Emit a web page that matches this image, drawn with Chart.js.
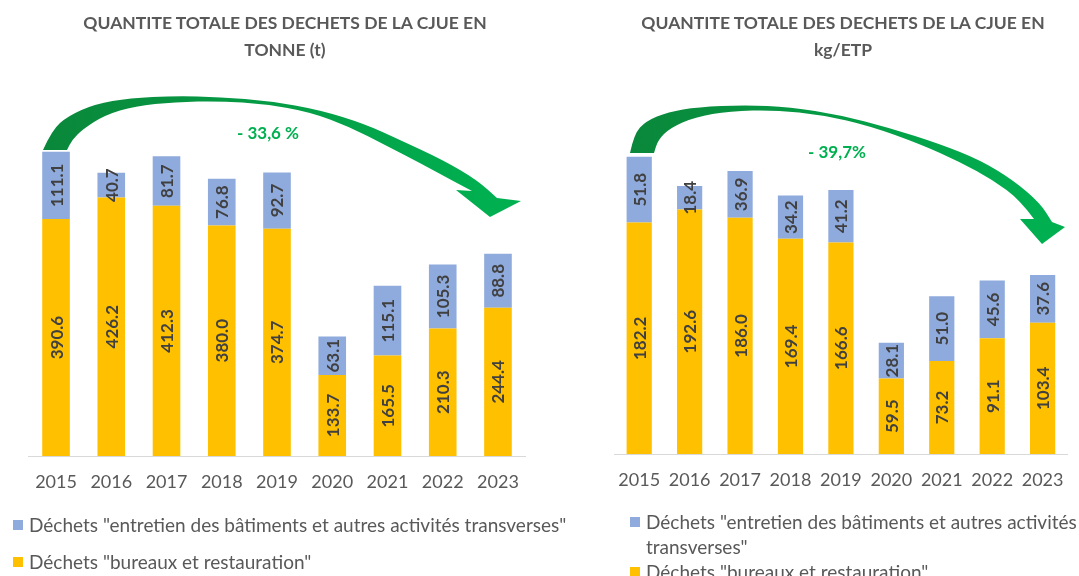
<!DOCTYPE html>
<html>
<head>
<meta charset="utf-8">
<script src="https://cdn.jsdelivr.net/npm/chart.js@4"></script>
<style>
  body { margin: 0; background: #fff; font-family: Lato, sans-serif; color: #595959; }
  #page { position: relative; width: 1079px; height: 576px; overflow: hidden; }
  canvas { position: absolute; top: 0; }
  .title { position: absolute; text-align: center; font-weight: bold; font-size: 17.5px; line-height: 27px; color: #595959; }
  .pct { position: absolute; font-weight: bold; font-size: 17px; color: #00b050; transform: translate(-50%, -50%); white-space: nowrap; }
  .leg { position: absolute; font-size: 19px; color: #595959; }
  .leg .item { position: relative; padding-left: 16px; }
  .leg .sq { position: absolute; left: 0; width: 10px; height: 10px; }
</style>
</head>
<body>
<div id="page">
  <canvas id="chartT" width="540" height="576" style="left:0;width:540px;height:576px"></canvas>
  <canvas id="chartK" width="539" height="576" style="left:540px;width:539px;height:576px"></canvas>

  <div class="title" style="left:70px;width:430px;top:9px">QUANTITE TOTALE DES DECHETS DE LA CJUE EN<br>TONNE (t)</div>
  <div class="title" style="left:633px;width:420px;top:9px">QUANTITE TOTALE DES DECHETS DE LA CJUE EN<br>kg/ETP</div>

  <div class="pct" style="left:268px;top:132px">- 33,6 %</div>
  <div class="pct" style="left:837px;top:151px">- 39,7%</div>

  <div class="leg" style="left:13px;top:512px;width:620px">
    <div class="item" style="line-height:26px"><span class="sq" style="background:#8faadc;top:8px"></span>Déchets "entretien des bâtiments et autres activités transverses"</div>
    <div class="item" style="line-height:26px;margin-top:11px"><span class="sq" style="background:#ffc000;top:8px"></span>Déchets "bureaux et restauration"</div>
  </div>
  <div class="leg" style="left:630px;top:509px;width:449px">
    <div class="item" style="line-height:25px"><span class="sq" style="background:#8faadc;top:8px"></span>Déchets "entretien des bâtiments et autres activités transverses"</div>
    <div class="item" style="line-height:25px"><span class="sq" style="background:#ffc000;top:8px"></span>Déchets "bureaux et restauration"</div>
  </div>
</div>

<script>
var years = ['2015', '2016', '2017', '2018', '2019', '2020', '2021', '2022', '2023'];

// tonnes
var bureauxTonnes = [390.6, 426.2, 412.3, 380.0, 374.7, 133.7, 165.5, 210.3, 244.4];
var entretienTonnes = [111.1, 40.7, 81.7, 76.8, 92.7, 63.1, 115.1, 105.3, 88.8];

// kg/ETP
var bureauxKg = [182.2, 192.6, 186.0, 169.4, 166.6, 59.5, 73.2, 91.1, 103.4];
var entretienKg = [51.8, 18.4, 36.9, 34.2, 41.2, 28.1, 51.0, 45.6, 37.6];

var labelFont = 'bold 17px Lato';

// values written vertically in the middle of each bar segment
var barLabels = {
  id: 'barLabels',
  afterDatasetsDraw: function(chart) {
    var ctx = chart.ctx;
    ctx.save();
    ctx.font = labelFont;
    ctx.fillStyle = '#404040';
    ctx.textAlign = 'center';
    ctx.textBaseline = 'middle';
    chart.data.datasets.forEach(function(ds, i) {
      chart.getDatasetMeta(i).data.forEach(function(bar, j) {
        var mid = (bar.y + bar.base) / 2;
        ctx.save();
        ctx.translate(bar.x, mid);
        ctx.rotate(-Math.PI / 2);
        ctx.fillText(ds.data[j].toFixed(1), 0, 1);
        ctx.restore();
      });
    });
    ctx.restore();
  }
};

function smoothPath(ctx, pts, start) {
  if (start) ctx.moveTo(pts[0][0], pts[0][1]); else ctx.lineTo(pts[0][0], pts[0][1]);
  for (var i = 1; i < pts.length - 1; i++) {
    var mx = (pts[i][0] + pts[i + 1][0]) / 2, my = (pts[i][1] + pts[i + 1][1]) / 2;
    ctx.quadraticCurveTo(pts[i][0], pts[i][1], mx, my);
  }
  var last = pts[pts.length - 1];
  ctx.lineTo(last[0], last[1]);
}

// green curved arrow (decoration)
function arrowPlugin(shape) {
  return {
    id: 'arrow',
    afterDraw: function(chart) {
      var ctx = chart.ctx;
      ctx.save();
      var g = ctx.createLinearGradient(shape.upper[0][0], 0, shape.head[1][0], 0);
      g.addColorStop(0, '#0a873a');
      g.addColorStop(1, '#00b050');
      ctx.fillStyle = g;
      ctx.beginPath();
      smoothPath(ctx, shape.upper, true);
      shape.head.forEach(function(p) { ctx.lineTo(p[0], p[1]); });
      smoothPath(ctx, shape.lower, false);
      ctx.closePath();
      ctx.fill();
      ctx.restore();
    }
  };
}

var arrowT = {
  upper: [[43,150],[52,130],[68,116],[95,104],[130,98],[175,96],[220,97],[270,101],[320,110],[365,124],[400,140],[443,160],[477,180],[497,198]],
  head: [[521,201],[490,217],[456,190]],
  lower: [[472,191],[453,181],[420,163],[385,145],[350,127],[310,112],[265,104],[220,101],[175,102],[135,106],[105,115],[83,129],[72,140],[67,150]]
};
var arrowK = {
  upper: [[90,153],[94,134],[106,121],[128,112],[158,107],[205,105],[250,107],[300,115],[350,128],[400,144],[440,160],[473,180],[500,203],[512,222]],
  head: [[525,227],[502,244],[480,219]],
  lower: [[494,219],[480,200],[453,180],[420,162],[380,144],[330,126],[283,115],[235,110],[190,111],[155,117],[130,128],[118,140],[114,153]]
};

function makeChart(id, bureaux, entretien, yMax, pad, arrow) {
  var ctx = document.getElementById(id).getContext('2d');
  return new Chart(ctx, {
    type: 'bar',
    data: {
      labels: years,
      datasets: [{
        label: 'Déchets "bureaux et restauration"',
        data: bureaux,
        backgroundColor: '#ffc000'
      }, {
        label: 'Déchets "entretien des bâtiments et autres activités transverses"',
        data: entretien,
        backgroundColor: '#8faadc'
      }]
    },
    options: {
      responsive: false,
      animation: false,
      layout: { padding: pad },
      datasets: { bar: { categoryPercentage: 1, barPercentage: 0.5 } },
      plugins: {
        legend: { display: false },
        tooltip: { enabled: false },
        title: { display: false }
      },
      scales: {
        x: {
          stacked: true,
          grid: { display: false, drawTicks: false },
          border: { display: true, color: '#d9d9d9', width: 1 },
          ticks: { color: '#595959', font: { family: 'Lato', size: 18 }, padding: 15 },
          afterFit: function(s) { s.height = 40; }
        },
        y: {
          stacked: true,
          display: false,
          min: 0,
          max: yMax
        }
      }
    },
    plugins: [barLabels, arrowPlugin(arrow)]
  });
}

makeChart('chartT', bureauxTonnes, entretienTonnes, 600, { left: 28.4, right: 14.4, top: 92, bottom: 80 }, arrowT);
makeChart('chartK', bureauxKg, entretienKg, 280, { left: 74, right: 9, top: 98.4, bottom: 82 }, arrowK);
</script>
</body>
</html>
